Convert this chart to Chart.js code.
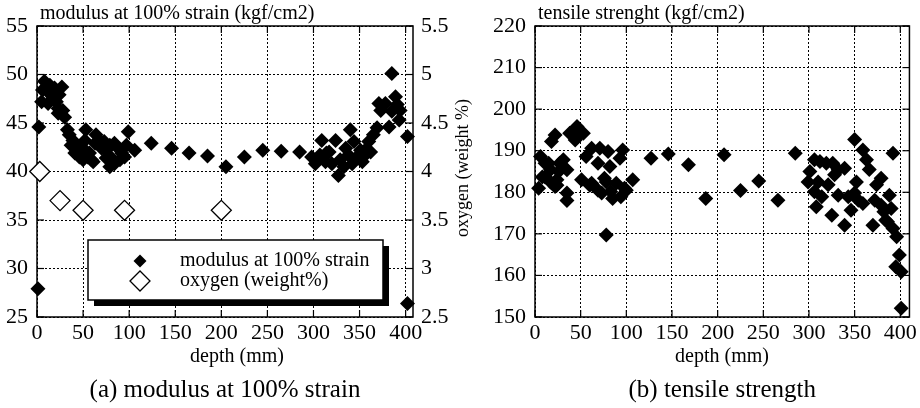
<!DOCTYPE html>
<html>
<head>
<meta charset="utf-8">
<script src="https://cdn.jsdelivr.net/npm/chart.js@4.4.1/dist/chart.umd.min.js"></script>
<style>
  html, body { margin: 0; padding: 0; background: #fff; }
  .fila { position: relative; width: 920px; height: 408px; }
  #modulo { position: absolute; left: 0; top: 0; }
  #tension { position: absolute; left: 460px; top: 0; }
</style>
</head>
<body>
<div class="fila">
  <canvas id="modulo" width="480" height="408"></canvas>
  <canvas id="tension" width="460" height="408"></canvas>
</div>
<script>
const depthTicks = [0, 50, 100, 150, 200, 250, 300, 350, 400];

// (a) modulus at 100% strain, kgf/cm2
const modulusDepth = [
  2, 1, 402,
  8, 14, 6, 12, 19, 27, 24, 17, 5, 12, 21, 23, 28, 30, 23,
  33, 35, 39, 37, 43, 41, 46, 53, 52, 50, 46, 59, 55, 64, 63, 68, 73, 70, 75, 79,
  84, 88, 92, 81, 84, 79, 90, 95, 97, 99, 106, 75, 57, 61, 50,
  124, 146, 165, 185, 205, 225, 245, 265, 285,
  298, 304, 309, 307, 314, 313, 324, 320, 327, 329, 335, 338, 340, 347, 353, 356,
  360, 365, 369, 382, 371, 373, 378, 389, 391, 394, 393, 402, 385, 385, 344, 333,
  351, 302, 317, 342, 355, 362
];
const modulusValues = [
  44.6, 27.9, 26.4,
  49.3, 48.9, 48.4, 48.2, 48.6, 48.7, 47.9, 47.7, 47.2, 47.0, 47.2, 46.5, 46.3, 45.6, 46.0,
  44.3, 43.8, 43.2, 42.7, 42.6, 41.9, 41.5, 44.3, 43.2, 42.4, 42.2, 41.2, 41.5, 43.8, 42.9, 43.2, 43.1, 42.4, 42.2, 42.7,
  42.9, 42.4, 41.9, 41.4, 40.8, 40.5, 41.2, 41.5, 42.7, 44.1, 42.2, 41.4, 41.9, 41.0, 41.2,
  42.9, 42.4, 41.9, 41.6, 40.5, 41.5, 42.2, 42.1, 42.0,
  41.5, 41.2, 43.2, 41.7, 41.9, 41.0, 43.2, 40.8, 39.6, 41.2, 42.4, 41.7, 44.3, 41.5, 41.0, 42.2,
  43.1, 43.8, 44.5, 44.6, 47.0, 46.3, 47.0, 47.7, 46.9, 46.3, 45.3, 43.6, 50.1, 46.2, 43.1, 40.5,
  42.2, 40.8, 42.0, 40.8, 41.6, 42.0
];

// oxygen (weight %)
const oxygenDepth = [3, 25, 50, 95, 200];
const oxygenValues = [4.0, 3.7, 3.6, 3.6, 3.6];

// (b) tensile strength, kgf/cm2
const tensileDepth = [
  6, 11, 22, 18, 17, 8, 27, 26, 35, 17, 4, 35, 24, 38, 46, 47, 44, 53, 56, 62, 69, 71, 82, 80,
  93, 96, 51, 62, 69, 78, 83, 98, 107, 94, 127, 146, 168, 78, 73, 60, 76, 89, 100, 22, 31, 15,
  11, 24, 35, 85, 187, 207, 225, 245, 266, 285,
  306, 312, 319, 326, 332, 339, 328, 301, 299, 310, 321, 306, 314, 308, 332, 343, 350, 354,
  346, 325, 339, 359, 370, 372, 379, 382, 388, 390, 384, 392, 396, 399, 395, 401, 401, 350,
  359, 363, 366, 392, 379, 374, 352, 386
];
const tensileValues = [
  188.6, 187.0, 193.8, 192.2, 185.4, 183.7, 187.0, 185.0, 185.4, 182.5, 181.0, 179.8, 181.7, 194.2, 195.8, 193.4, 192.6, 194.2, 188.6, 190.6, 187.0, 190.6, 186.2, 189.8,
  188.2, 190.2, 183.0, 182.2, 180.5, 182.5, 180.1, 181.0, 183.0, 178.9, 188.2, 189.2, 186.6, 169.7, 179.8, 181.7, 183.4, 182.2, 180.5, 181.4, 187.8, 187.0,
  183.7, 183.0, 178.0, 178.5, 178.5, 189.0, 180.4, 182.7, 178.1, 189.4,
  187.8, 187.4, 187.0, 187.0, 185.4, 185.8, 184.2, 185.0, 182.5, 182.5, 181.8, 180.1, 178.9, 176.5, 179.3, 178.9, 179.8, 178.1,
  175.7, 174.5, 172.1, 177.3, 172.1, 178.1, 176.9, 175.3, 179.3, 176.1, 173.3, 171.3, 169.3, 164.9, 162.1, 160.9, 152.1, 192.7,
  190.2, 187.8, 185.5, 189.4, 183.4, 181.8, 182.5, 172.9
];

const serif = "'Liberation Serif', 'Times New Roman', serif";
const puntos = (xs, ys) => xs.map((x, i) => ({ x: x, y: ys[i] }));

// marco, ticks interiores, titulos y leyenda
const marco = {
  id: 'marco',
  beforeDatasetsDraw(chart, args, opts) {
    const { ctx, chartArea: a } = chart;
    ctx.save();
    ctx.strokeStyle = '#000';
    ctx.lineWidth = 1.5;
    ctx.strokeRect(a.left, a.top, a.right - a.left, a.bottom - a.top);
    ctx.lineWidth = 1.2;
    const seg = (x1, y1, x2, y2) => { ctx.beginPath(); ctx.moveTo(x1, y1); ctx.lineTo(x2, y2); ctx.stroke(); };
    const sx = chart.scales.x;
    sx.ticks.forEach(t => {
      const p = sx.getPixelForValue(t.value);
      seg(p, a.bottom, p, a.bottom - 7);
      seg(p, a.top, p, a.top + 7);
    });
    const sy = chart.scales.y;
    sy.ticks.forEach(t => {
      const p = sy.getPixelForValue(t.value);
      seg(a.left, p, a.left + 7, p);
      seg(a.right, p, a.right - 7, p);
    });
    ctx.restore();
  },
  afterDraw(chart, args, opts) {
    const { ctx, chartArea: a } = chart;
    ctx.save();
    ctx.fillStyle = '#000';
    ctx.textBaseline = 'middle';
    ctx.font = '20px ' + serif;
    ctx.textAlign = 'left';
    ctx.fillText(opts.titulo, a.left + 3, 14);
    ctx.textAlign = 'center';
    ctx.fillText('depth (mm)', opts.ejeX, 357);
    ctx.font = '25px ' + serif;
    ctx.fillText(opts.pie, (a.left + a.right) / 2, 390);
    if (opts.ejeY2) {
      ctx.font = '18px ' + serif;
      ctx.save();
      ctx.translate(opts.ejeY2, 168);
      ctx.rotate(-Math.PI / 2);
      ctx.fillText('oxygen (weight %)', 0, 0);
      ctx.restore();
    }
    if (opts.leyenda) {
      const L = opts.leyenda;
      ctx.fillRect(L.x + 6, L.y + 6, L.w, L.h);
      ctx.fillStyle = '#fff';
      ctx.fillRect(L.x, L.y, L.w, L.h);
      ctx.strokeStyle = '#000';
      ctx.lineWidth = 1.5;
      ctx.strokeRect(L.x, L.y, L.w, L.h);
      chart.data.datasets.forEach((ds, i) => {
        const y = L.y + 21 + i * 20;
        ctx.fillStyle = ds.backgroundColor;
        ctx.strokeStyle = ds.borderColor;
        ctx.lineWidth = ds.borderWidth;
        Chart.helpers.drawPoint(ctx, { pointStyle: 'rectRot', radius: L.radios[i], rotation: 0, borderWidth: ds.borderWidth }, L.x + 52, y);
        ctx.fillStyle = '#000';
        ctx.textAlign = 'left';
        ctx.font = '20px ' + serif;
        ctx.fillText(ds.label, L.x + 92, y);
      });
    }
    ctx.restore();
  }
};

function ejeX(max) {
  return {
    type: 'linear', min: 0, max: max,
    afterBuildTicks: s => { s.ticks = depthTicks.map(v => ({ value: v })); },
    afterFit: s => { s.height = 50; },
    grid: { color: '#000', lineWidth: 1, drawTicks: false },
    border: { display: false, dash: [2, 2] },
    ticks: { color: '#000', font: { family: serif, size: 22 }, padding: 3, maxRotation: 0, autoSkip: false }
  };
}

new Chart(document.getElementById('modulo'), {
  type: 'scatter',
  data: {
    datasets: [
      {
        label: 'modulus at 100% strain',
        data: puntos(modulusDepth, modulusValues),
        yAxisID: 'y',
        pointStyle: 'rectRot', pointRadius: 7.5,
        backgroundColor: '#000', borderColor: '#000', borderWidth: 0,
        clip: false
      },
      {
        label: 'oxygen (weight%)',
        data: puntos(oxygenDepth, oxygenValues),
        yAxisID: 'y2',
        pointStyle: 'rectRot', pointRadius: 10,
        backgroundColor: '#fff', borderColor: '#000', borderWidth: 1.3,
        clip: false
      }
    ]
  },
  options: {
    responsive: false,
    animation: false,
    events: [],
    layout: { padding: { top: 26, bottom: 41, left: 0, right: 20 } },
    scales: {
      x: ejeX(408),
      y: {
        min: 25, max: 55,
        afterFit: s => { s.width = 37; },
        grid: { color: '#000', lineWidth: 1, drawTicks: false },
        border: { display: false, dash: [2, 2] },
        ticks: { stepSize: 5, color: '#000', font: { family: serif, size: 22 }, padding: 9 }
      },
      y2: {
        position: 'right',
        min: 2.5, max: 5.5,
        afterFit: s => { s.width = 47; },
        grid: { drawOnChartArea: false, drawTicks: false },
        border: { display: false },
        ticks: { stepSize: 0.5, color: '#000', font: { family: serif, size: 22 }, padding: 8, callback: v => String(v) }
      }
    },
    plugins: {
      legend: { display: false },
      tooltip: { enabled: false },
      marco: {
        titulo: 'modulus at 100% strain (kgf/cm2)',
        pie: '(a) modulus at 100% strain',
        ejeX: 237,
        ejeY2: 463,
        leyenda: { x: 88, y: 240, w: 295, h: 60, radios: [6.5, 10] }
      }
    }
  },
  plugins: [marco]
});

new Chart(document.getElementById('tension'), {
  type: 'scatter',
  data: {
    datasets: [{
      label: 'tensile strength',
      data: puntos(tensileDepth, tensileValues),
      pointStyle: 'rectRot', pointRadius: 7.5,
      backgroundColor: '#000', borderColor: '#000', borderWidth: 0,
      clip: false
    }]
  },
  options: {
    responsive: false,
    animation: false,
    events: [],
    layout: { padding: { top: 26, bottom: 41, left: 0, right: 8 } },
    scales: {
      x: ejeX(410),
      y: {
        min: 150, max: 220,
        afterFit: s => { s.width = 75; },
        grid: { color: '#000', lineWidth: 1, drawTicks: false },
        border: { display: false, dash: [2, 2] },
        ticks: { stepSize: 10, color: '#000', font: { family: serif, size: 22 }, padding: 9 }
      }
    },
    plugins: {
      legend: { display: false },
      tooltip: { enabled: false },
      marco: {
        titulo: 'tensile strenght (kgf/cm2)',
        pie: '(b) tensile strength',
        ejeX: 262
      }
    }
  },
  plugins: [marco]
});
</script>
</body>
</html>
